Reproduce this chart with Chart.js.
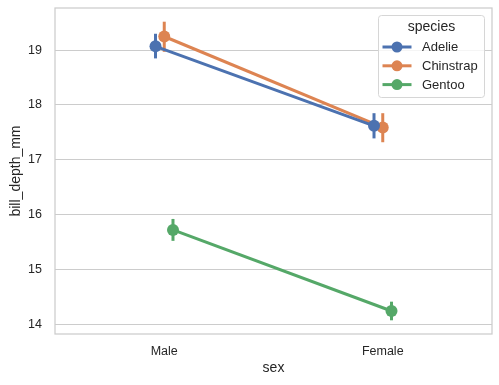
<!DOCTYPE html>
<html>
<head>
<meta charset="utf-8">
<script src="https://cdn.jsdelivr.net/npm/chart.js@4"></script>
<style>
  html, body { margin: 0; padding: 0; background: #fff; }
  #wrap { width: 499px; height: 385px; }
</style>
</head>
<body>
<div id="wrap"><canvas id="chartCanvas"></canvas></div>
<script>
const categories = ["Male", "Female"];
const species = ["Adelie", "Chinstrap", "Gentoo"];
const colors = ["#4C72B0", "#DD8452", "#55A868"];

// mean per sex (Male, Female)
const meanAdelie = [19.07, 17.62];
const meanChinstrap = [19.25, 17.59];
const meanGentoo = [15.72, 14.24];

// 95% CI low / high per sex
const lowAdelie = [18.85, 17.39];
const highAdelie = [19.30, 17.85];
const lowChinstrap = [18.97, 17.32];
const highChinstrap = [19.52, 17.85];
const lowGentoo = [15.52, 14.07];
const highGentoo = [15.92, 14.41];

const yTicks = [14, 15, 16, 17, 18, 19];

const means = [meanAdelie, meanChinstrap, meanGentoo];
const lows = [lowAdelie, lowChinstrap, lowGentoo];
const highs = [highAdelie, highChinstrap, highGentoo];
const dodge = [-0.04, 0, 0.04];

const FONT = "'Liberation Sans', Arial, sans-serif";
const GRID = "#cccccc";
const TEXT = "#262626";

const datasets = [];
species.forEach((sp, s) => {
  // error bars
  categories.forEach((c, i) => {
    datasets.push({
      label: sp + "_ci_" + c,
      data: [{ x: i + dodge[s], y: lows[s][i] }, { x: i + dodge[s], y: highs[s][i] }],
      borderColor: colors[s],
      borderWidth: 3,
      borderCapStyle: "butt",
      pointRadius: 0,
      showLine: true,
      order: 2,
      clip: false
    });
  });
  datasets.push({
    label: sp,
    data: categories.map((c, i) => ({ x: i + dodge[s], y: means[s][i] })),
    borderColor: colors[s],
    backgroundColor: colors[s],
    borderWidth: 3,
    pointRadius: 6,
    pointBorderWidth: 0,
    pointHoverRadius: 6,
    showLine: true,
    order: 1,
    clip: false
  });
});

const frameAndLegend = {
  id: "frameAndLegend",
  beforeDatasetsDraw(chart) {
    const { ctx, chartArea: a } = chart;
    ctx.save();
    ctx.strokeStyle = GRID;
    ctx.lineWidth = 1.25;
    ctx.strokeRect(a.left, a.top, a.right - a.left, a.bottom - a.top);
    ctx.restore();
  },
  afterDraw(chart) {
    const { ctx } = chart;
    const bx = 378, by = 15, bw = 106, bh = 82;
    ctx.save();
    ctx.fillStyle = "rgba(255,255,255,0.8)";
    ctx.strokeStyle = "#d6d6d6";
    ctx.lineWidth = 1;
    ctx.beginPath();
    ctx.roundRect(bx + 0.5, by + 0.5, bw, bh, 3);
    ctx.fill();
    ctx.stroke();
    ctx.fillStyle = TEXT;
    ctx.font = "14px " + FONT;
    ctx.textAlign = "center";
    ctx.textBaseline = "middle";
    ctx.fillText("species", bx + bw / 2 + 0.5, by + 12);
    ctx.font = "13px " + FONT;
    ctx.textAlign = "left";
    species.forEach((sp, s) => {
      const yy = by + 32 + s * 18.8;
      ctx.strokeStyle = colors[s];
      ctx.lineWidth = 3;
      ctx.beginPath();
      ctx.moveTo(bx + 4.5, yy);
      ctx.lineTo(bx + 33.5, yy);
      ctx.stroke();
      ctx.fillStyle = colors[s];
      ctx.beginPath();
      ctx.arc(bx + 19, yy, 5.5, 0, Math.PI * 2);
      ctx.fill();
      ctx.fillStyle = TEXT;
      ctx.fillText(sp, bx + 44, yy + 0.5);
    });
    ctx.restore();
  }
};

new Chart(document.getElementById("chartCanvas"), {
  type: "line",
  data: { datasets },
  plugins: [frameAndLegend],
  options: {
    responsive: true,
    maintainAspectRatio: false,
    animation: false,
    layout: { padding: { left: 0, right: 7, top: 8, bottom: 0 } },
    plugins: {
      legend: { display: false },
      tooltip: { enabled: false }
    },
    scales: {
      x: {
        type: "linear",
        min: -0.5,
        max: 1.5,
        afterBuildTicks: (sc) => { sc.ticks = categories.map((c, i) => ({ value: i })); },
        afterFit: (sc) => {
          sc.height = 51;
          sc.paddingLeft = 0; sc.paddingRight = 0;
        },
        ticks: {
          callback: (v) => categories[v],
          color: TEXT,
          font: { family: FONT, size: 12.5 },
          padding: 10,
          maxRotation: 0
        },
        grid: { display: false, drawTicks: false },
        border: { display: false },
        title: { display: true, text: "sex", color: TEXT, font: { family: FONT, size: 14 }, padding: { top: 0, bottom: 8.5 } }
      },
      y: {
        type: "linear",
        min: 13.82,
        max: 19.77,
        afterBuildTicks: (sc) => { sc.ticks = yTicks.map(v => ({ value: v })); },
        afterFit: (sc) => {
          sc.width = 55;
          sc.paddingTop = 0; sc.paddingBottom = 0;
        },
        ticks: {
          color: TEXT,
          font: { family: FONT, size: 12.5 },
          padding: 13
        },
        grid: { color: GRID, lineWidth: 1, drawTicks: false },
        border: { display: false },
        title: { display: true, text: "bill_depth_mm", color: TEXT, font: { family: FONT, size: 14 }, padding: { top: 7.5, bottom: 0 } }
      }
    }
  }
});
</script>
</body>
</html>
